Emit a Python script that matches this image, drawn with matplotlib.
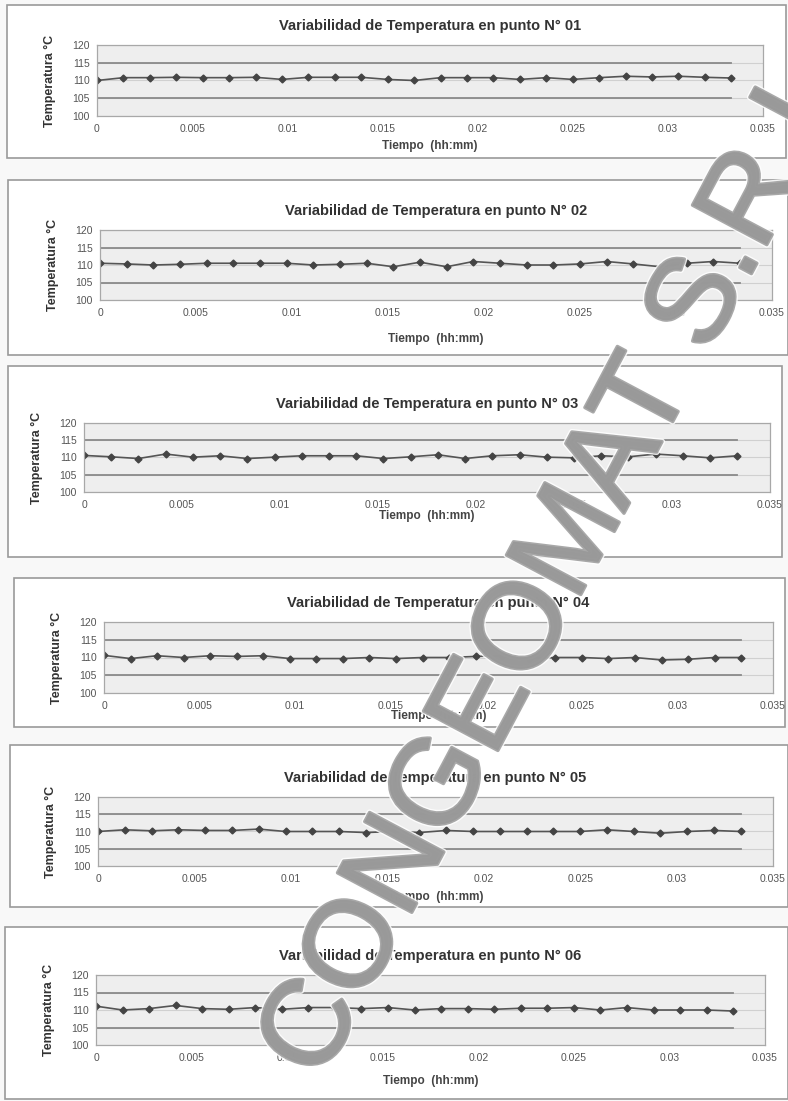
import matplotlib
matplotlib.use('Agg')
import matplotlib.pyplot as plt
from matplotlib.patches import Rectangle
import matplotlib.patheffects as pe

plt.rcParams['font.family'] = ['Liberation Sans', 'DejaVu Sans']

# sampling every 2 minutes (fraction of a day)
tiempo = [i * 2 / 1440 for i in range(25)]

punto_01 = [110.0, 110.8, 110.8, 110.9, 110.8, 110.8, 110.9, 110.3, 110.9, 110.9, 110.9, 110.3, 110.0,
            110.8, 110.8, 110.8, 110.3, 110.8, 110.3, 110.8, 111.2, 111.0, 111.2, 110.9, 110.7]
punto_02 = [110.5, 110.3, 110.0, 110.2, 110.5, 110.5, 110.5, 110.5, 110.0, 110.2, 110.5, 109.5, 110.8,
            109.5, 111.0, 110.5, 110.0, 110.0, 110.3, 111.0, 110.3, 109.5, 110.5, 111.0, 110.5]
punto_03 = [110.6, 110.2, 109.7, 111.0, 110.1, 110.5, 109.7, 110.1, 110.5, 110.5, 110.5, 109.7, 110.2,
            110.8, 109.7, 110.5, 110.8, 110.1, 109.9, 110.5, 110.2, 111.0, 110.5, 109.9, 110.5]
punto_04 = [110.6, 109.7, 110.5, 110.0, 110.5, 110.3, 110.5, 109.7, 109.7, 109.7, 110.0, 109.7, 110.0,
            110.0, 110.3, 110.5, 109.7, 110.0, 110.0, 109.7, 110.0, 109.3, 109.5, 110.0, 110.0]
punto_05 = [110.0, 110.5, 110.2, 110.5, 110.3, 110.3, 110.7, 110.0, 110.0, 110.0, 109.7, 110.0, 109.7,
            110.3, 110.0, 110.0, 110.0, 110.0, 110.0, 110.5, 110.0, 109.5, 110.0, 110.3, 110.0]
punto_06 = [111.1, 110.0, 110.4, 111.3, 110.4, 110.2, 110.7, 110.2, 110.7, 110.7, 110.4, 110.7, 110.0,
            110.4, 110.4, 110.2, 110.5, 110.5, 110.7, 110.0, 110.7, 110.0, 110.0, 110.0, 109.7]

series = [punto_01, punto_02, punto_03, punto_04, punto_05, punto_06]
nombres = ['01', '02', '03', '04', '05', '06']
lim_sup = 115
lim_inf = 105
xticks = [0, 0.005, 0.01, 0.015, 0.02, 0.025, 0.03, 0.035]
xlabels = ['0', '0.005', '0.01', '0.015', '0.02', '0.025', '0.03', '0.035']
yticks = [100, 105, 110, 115, 120]

W, H = 788, 1101
fig = plt.figure(figsize=(W / 100, H / 100), dpi=100)
fig.patch.set_facecolor('#f8f8f8')

# (box left, box top, box right, box bottom, plot left, plot top, plot right, plot bottom, xlabel gap)
layout = [
    (7, 5, 786, 158, 97, 45, 763, 116, 24),
    (8, 180, 788, 355, 100, 230, 772, 300, 33),
    (8, 366, 782, 557, 84, 423, 770, 492, 18),
    (14, 578, 785, 727, 104, 622, 773, 693, 17),
    (10, 745, 788, 907, 98, 797, 773, 866, 25),
    (5, 927, 788, 1099, 96, 975, 765, 1045, 30),
]

for serie, nombre, (bl, bt, br, bb, pl, pt, pr, pb, gap) in zip(series, nombres, layout):
    fig.patches.append(Rectangle((bl / W, 1 - bb / H), (br - bl) / W, (bb - bt) / H,
                                 transform=fig.transFigure, facecolor='white',
                                 edgecolor='#9a9a9a', linewidth=1.2, zorder=-1))
    ax = fig.add_axes([pl / W, 1 - pb / H, (pr - pl) / W, (pb - pt) / H])
    ax.set_facecolor('#eeeeee')
    for s in ax.spines.values():
        s.set_color('#a8a8a8')
        s.set_linewidth(0.9)
    ax.set_xlim(0, 0.035)
    ax.set_ylim(100, 120)
    ax.set_yticks(yticks)
    ax.set_xticks(xticks)
    ax.set_xticklabels(xlabels)
    ax.tick_params(length=0, labelsize=7.5, colors='#555555', pad=6)
    ax.tick_params(axis='y', pad=5)
    ax.yaxis.grid(True, color='#d0d0d0', linewidth=0.8)
    ax.set_axisbelow(True)
    ax.plot([tiempo[0], tiempo[-1]], [lim_sup, lim_sup], color='#8a8a8a', linewidth=1.3)
    ax.plot([tiempo[0], tiempo[-1]], [lim_inf, lim_inf], color='#8a8a8a', linewidth=1.3)
    ax.plot(tiempo, serie, color='#555555', linewidth=1.2, marker='D', markersize=3.5,
            markerfacecolor='#444444', markeredgecolor='#444444')
    ax.set_title('Variabilidad de Temperatura en punto N° ' + nombre, fontsize=10.5,
                 fontweight='bold', color='#333333', pad=11)
    ax.set_ylabel('Temperatura °C', fontsize=9, fontweight='bold', color='#333333', labelpad=12)
    ax.text(0.5, -gap / (pb - pt), 'Tiempo  (hh:mm)', transform=ax.transAxes, ha='center',
            va='top', fontsize=8.5, fontweight='bold', color='#444444')

# watermark of the scanned document
fig.text(321 / W, 1 - 1083 / H, 'CONGEOMAT S.R.L', rotation=62, rotation_mode='anchor',
         ha='left', va='baseline', fontsize=88, color='#999999',
         alpha=0.85, zorder=10,
         path_effects=[pe.Stroke(linewidth=4.5, foreground='white'),
                       pe.Stroke(linewidth=2.5, foreground='#999999'), pe.Normal()])

fig.savefig('out.png', dpi=100, facecolor=fig.get_facecolor())
